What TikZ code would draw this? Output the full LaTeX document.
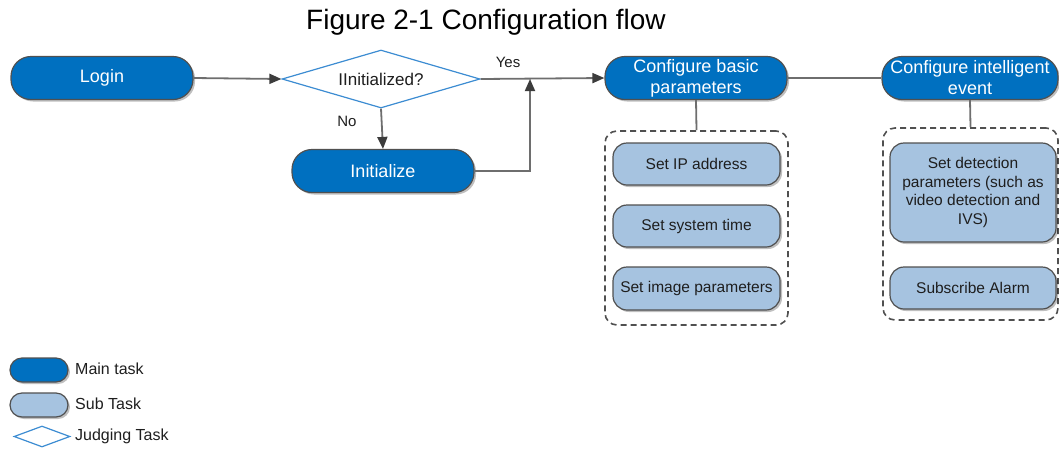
\documentclass[tikz,border=0pt]{standalone}
\usepackage{fontspec}
\setmainfont{Liberation Sans}
\usetikzlibrary{shapes.geometric,arrows.meta,shadows}
\definecolor{mainblue}{RGB}{0,112,192}
\definecolor{subblue}{RGB}{166,195,224}
\definecolor{judgeblue}{RGB}{60,140,210}
\definecolor{edgegray}{RGB}{80,80,80}
\definecolor{linegray}{RGB}{110,110,110}
\definecolor{tipgray}{RGB}{60,60,60}
\definecolor{txt}{RGB}{30,30,30}
\tikzset{
  shad/.style={drop shadow={shadow xshift=2pt,shadow yshift=-2pt,opacity=0.25,fill=black}},
  maintask/.style={rectangle,rounded corners=20pt,fill=mainblue,draw=edgegray,line width=1.2pt,
    text=white,font=\fontsize{18}{21}\selectfont,align=center,inner sep=0pt,shad},
  subtask/.style={rectangle,rounded corners=14pt,fill=subblue,draw=edgegray,line width=1.2pt,
    text=txt,font=\fontsize{15.5}{18.5}\selectfont,align=center,inner sep=0pt,shad},
  judge/.style={diamond,aspect=3.4,draw=judgeblue,line width=1.2pt,fill=white,inner sep=0pt,
    text=txt,font=\fontsize{17}{20}\selectfont},
  group/.style={rectangle,rounded corners=12pt,draw=edgegray,line width=1.6pt,dash pattern=on 6pt off 4pt},
  conn/.style={draw=linegray,line width=1.8pt},
  arr/.style={conn,-{Triangle[length=12pt,width=10pt,color=tipgray]}},
  lbl/.style={text=txt,font=\fontsize{15}{18}\selectfont,inner sep=0pt},
  legtxt/.style={text=txt,font=\fontsize{16}{19}\selectfont,inner sep=0pt,anchor=west}
}
\begin{document}
\begin{tikzpicture}[x=1pt,y=-1pt]
\useasboundingbox (0,0) rectangle (1059,448);
\node[font=\fontsize{28}{31}\selectfont,text=black,inner sep=0pt] (title) at (486,22) {Figure 2-1 Configuration flow};

\node[maintask,minimum width=182pt,minimum height=43pt] (login) at (102,78) {Login};
\node[judge,minimum width=198pt,minimum height=58pt] (judge) at (381,79) {IInitialized?};
\node[maintask,minimum width=182pt,minimum height=43pt] (init) at (383,171) {Initialize};
\coordinate (join) at (530,79);
\node[maintask,minimum width=182pt,minimum height=43pt] (basic) at (696,78) {Configure basic\\parameters};
\node[maintask,minimum width=176pt,minimum height=43pt] (intel) at (970,78) {Configure intelligent\\event};

\node[group,minimum width=183pt,minimum height=194pt] (g1) at (696.5,228) {};
\node[subtask,minimum width=167pt,minimum height=42pt] (ip) at (696.5,164) {Set IP address};
\node[subtask,minimum width=167pt,minimum height=42pt] (time) at (696.5,226) {Set system time};
\node[subtask,minimum width=167pt,minimum height=43pt] (img) at (696.5,288.5) {Set image parameters};

\node[group,minimum width=175pt,minimum height=192pt] (g2) at (970.5,224) {};
\node[subtask,minimum width=166pt,minimum height=99pt] (det) at (973,192.5) {Set detection\\parameters (such as\\video detection and\\IVS)};
\node[subtask,minimum width=166pt,minimum height=42pt] (alarm) at (973,288) {Subscribe Alarm};

\draw[arr] (login.east) -- (judge.west);
\draw[arr] (judge.south) -- (init.north);
\draw[arr] (judge.east) -- (basic.west);
\draw[arr] (init.east) -| (join);
\draw[conn] (basic.east) -- (intel.west);
\draw[conn] (basic.south) -- (g1.north);
\draw[conn] (intel.south) -- (g2.north);

\node[lbl] (yes) at (508,62) {Yes};
\node[lbl] (no) at (347,121) {No};

\node[maintask,rounded corners=12pt,minimum width=58pt,minimum height=24pt] (legmain) at (39,370) {};
\node[legtxt] (legmaint) at (75,369) {Main task};
\node[subtask,rounded corners=12pt,minimum width=58pt,minimum height=24pt] (legsub) at (39,405) {};
\node[legtxt] (legsubt) at (75,404) {Sub Task};
\node[judge,minimum width=56pt,minimum height=21pt] (legjudge) at (42,436.5) {};
\node[legtxt] (legjudget) at (75,436) {Judging Task};
\end{tikzpicture}
\end{document}
